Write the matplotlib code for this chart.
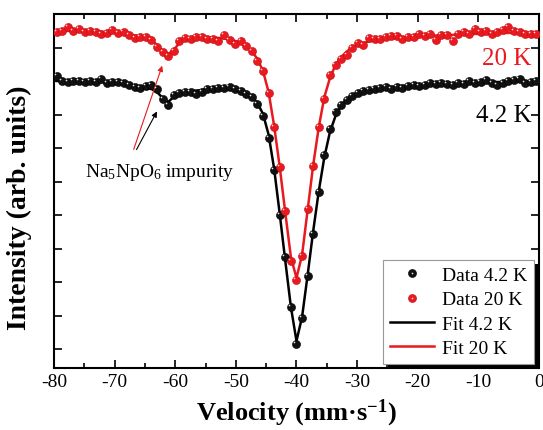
import matplotlib
matplotlib.use("Agg")
import matplotlib.pyplot as plt
import matplotlib.patheffects as pe
from matplotlib.lines import Line2D
from matplotlib.legend_handler import HandlerTuple
from matplotlib.ticker import MultipleLocator
from matplotlib.transforms import ScaledTranslation

plt.rcParams['font.family'] = 'Liberation Serif'
plt.rcParams['mathtext.default'] = 'regular'
plt.rcParams['axes.unicode_minus'] = False

# velocity channels (mm/s)
velocity = [-79.56, -78.64, -77.72, -76.80, -75.88, -74.96, -74.04, -73.12, -72.20, -71.28,
            -70.36, -69.44, -68.52, -67.60, -66.68, -65.76, -64.84, -63.92, -63.00, -62.08,
            -61.16, -60.24, -59.32, -58.40, -57.48, -56.56, -55.64, -54.72, -53.80, -52.88,
            -51.96, -51.04, -50.12, -49.20, -48.28, -47.36, -46.44, -45.52, -44.60, -43.68,
            -42.76, -41.84, -40.92, -40.00, -39.08, -38.16, -37.24, -36.32, -35.40, -34.48,
            -33.56, -32.64, -31.72, -30.80, -29.88, -28.96, -28.04, -27.12, -26.20, -25.28,
            -24.36, -23.44, -22.52, -21.60, -20.68, -19.76, -18.84, -17.92, -17.00, -16.08,
            -15.16, -14.24, -13.32, -12.40, -11.48, -10.56, -9.64, -8.72, -7.80, -6.88,
            -5.96, -5.04, -4.12, -3.20, -2.28, -1.36, -0.44]

data_4k = [1.0030, 1.0000, 0.9994, 1.0000, 1.0000, 0.9994, 1.0000, 0.9994, 1.0012, 0.9988,
           0.9994, 0.9994, 0.9988, 0.9976, 0.9964, 0.9958, 0.9970, 0.9976, 0.9952, 0.9893,
           0.9857, 0.9917, 0.9928, 0.9934, 0.9934, 0.9922, 0.9934, 0.9952, 0.9952, 0.9958,
           0.9958, 0.9964, 0.9952, 0.9940, 0.9922, 0.9905, 0.9863, 0.9791, 0.9660, 0.9469,
           0.9200, 0.8949, 0.8651, 0.8430, 0.8585, 0.8836, 0.9087, 0.9337, 0.9558, 0.9714,
           0.9815, 0.9857, 0.9887, 0.9911, 0.9928, 0.9940, 0.9946, 0.9952, 0.9958, 0.9964,
           0.9952, 0.9964, 0.9958, 0.9970, 0.9976, 0.9970, 0.9976, 0.9988, 0.9982, 0.9988,
           0.9982, 0.9976, 0.9988, 0.9982, 1.0000, 0.9988, 0.9994, 1.0006, 0.9988, 0.9976,
           0.9988, 1.0000, 1.0006, 1.0012, 0.9988, 0.9994, 1.0000]

data_20k = [1.0293, 1.0299, 1.0322, 1.0299, 1.0311, 1.0293, 1.0299, 1.0293, 1.0281, 1.0287,
            1.0305, 1.0287, 1.0293, 1.0275, 1.0257, 1.0263, 1.0263, 1.0245, 1.0203, 1.0173,
            1.0149, 1.0179, 1.0239, 1.0257, 1.0251, 1.0263, 1.0263, 1.0251, 1.0251, 1.0239,
            1.0275, 1.0245, 1.0221, 1.0239, 1.0209, 1.0179, 1.0120, 1.0060, 0.9928, 0.9725,
            0.9487, 0.9224, 0.8925, 0.8812, 0.8955, 0.9236, 0.9493, 0.9725, 0.9893, 1.0036,
            1.0096, 1.0131, 1.0155, 1.0197, 1.0227, 1.0215, 1.0257, 1.0251, 1.0251, 1.0263,
            1.0269, 1.0269, 1.0251, 1.0263, 1.0263, 1.0281, 1.0269, 1.0281, 1.0245, 1.0275,
            1.0275, 1.0239, 1.0281, 1.0293, 1.0281, 1.0311, 1.0293, 1.0299, 1.0281, 1.0293,
            1.0305, 1.0322, 1.0299, 1.0293, 1.0281, 1.0281, 1.0281]

fit_4k = [1.0000, 1.0000, 1.0000, 1.0000, 0.9997, 0.9997, 0.9994, 0.9994, 0.9994, 0.9991,
          0.9988, 0.9988, 0.9982, 0.9976, 0.9970, 0.9964, 0.9958, 0.9952, 0.9934, 0.9899,
          0.9875, 0.9905, 0.9928, 0.9934, 0.9940, 0.9943, 0.9946, 0.9949, 0.9952, 0.9952,
          0.9952, 0.9949, 0.9946, 0.9937, 0.9925, 0.9905, 0.9869, 0.9803, 0.9680, 0.9475,
          0.9206, 0.8925, 0.8651, 0.8448, 0.8591, 0.8842, 0.9105, 0.9343, 0.9546, 0.9696,
          0.9791, 0.9851, 0.9887, 0.9911, 0.9925, 0.9937, 0.9946, 0.9952, 0.9958, 0.9961,
          0.9964, 0.9967, 0.9970, 0.9973, 0.9976, 0.9976, 0.9979, 0.9982, 0.9982, 0.9985,
          0.9985, 0.9985, 0.9988, 0.9988, 0.9988, 0.9991, 0.9991, 0.9991, 0.9994, 0.9994,
          0.9994, 0.9994, 0.9997, 0.9997, 0.9997, 0.9997, 1.0000]

fit_20k = [1.0299, 1.0299, 1.0299, 1.0299, 1.0299, 1.0299, 1.0296, 1.0296, 1.0293, 1.0293,
           1.0290, 1.0287, 1.0284, 1.0278, 1.0272, 1.0266, 1.0260, 1.0245, 1.0215, 1.0179,
           1.0161, 1.0185, 1.0227, 1.0248, 1.0254, 1.0257, 1.0260, 1.0260, 1.0260, 1.0257,
           1.0254, 1.0248, 1.0239, 1.0227, 1.0209, 1.0179, 1.0131, 1.0060, 0.9934, 0.9731,
           0.9487, 0.9212, 0.8949, 0.8824, 0.8961, 0.9230, 0.9499, 0.9725, 0.9905, 1.0018,
           1.0096, 1.0143, 1.0176, 1.0200, 1.0215, 1.0227, 1.0236, 1.0242, 1.0248, 1.0251,
           1.0254, 1.0257, 1.0260, 1.0263, 1.0266, 1.0266, 1.0269, 1.0269, 1.0272, 1.0272,
           1.0275, 1.0275, 1.0278, 1.0278, 1.0281, 1.0281, 1.0281, 1.0284, 1.0284, 1.0284,
           1.0287, 1.0287, 1.0287, 1.0287, 1.0287, 1.0287, 1.0287]

red = '#e8191f'

fig = plt.figure(figsize=(5.43, 4.31), dpi=100)
ax = fig.add_axes([0.0994, 0.1439, 0.8932, 0.8213])

# small offset for the highlight on the "ball" markers
shift = ScaledTranslation(-1.5 / 72, 1.5 / 72, fig.dpi_scale_trans)
ball = dict(ls='none', marker='o', ms=5.8, mew=0.4)
spot = dict(ls='none', marker='o', ms=1.2, mew=0)

ax.plot(velocity, fit_4k, color='black', lw=1.8, zorder=2)
ax.plot(velocity, fit_20k, color=red, lw=1.8, zorder=2)

ax.plot(velocity, data_4k, mfc='#111111', mec='black', zorder=3, **ball)
ax.plot(velocity, data_4k, color='#e8e8e8', transform=ax.transData + shift, zorder=4, **spot)
ax.plot(velocity, data_20k, mfc=red, mec='#c41016', zorder=3, **ball)
ax.plot(velocity, data_20k, color='#ffd8d8', transform=ax.transData + shift, zorder=4, **spot)

ax.set_xlim(-80, 0)
ax.set_ylim(0.8287, 1.04)
ax.xaxis.set_major_locator(MultipleLocator(10))
ax.xaxis.set_minor_locator(MultipleLocator(5))
ax.yaxis.set_major_locator(MultipleLocator(0.02))
ax.tick_params(which='both', direction='in', top=True, right=True, width=1.2, labelsize=14)
ax.tick_params(which='major', length=6)
ax.tick_params(which='minor', length=3.5)
ax.tick_params(axis='y', labelleft=False)
for s in ax.spines.values():
    s.set_linewidth(1.5)

ax.set_xlabel('Velocity (mm·s$^{-1}$)', fontsize=19, fontweight='bold', labelpad=5)
ax.set_ylabel('Intensity (arb. units)', fontsize=20, fontweight='bold')
ax.yaxis.set_label_coords(-0.045, 0.455)

ax.text(-1.2, 1.0137, '20 K', color=red, fontsize=18, ha='right', va='center')
ax.text(-1.2, 0.9797, '4.2 K', color='black', fontsize=18, ha='right', va='center')

ax.annotate('', xy=(-62.0, 1.0107), xytext=(-67.0, 0.9576),
            arrowprops=dict(arrowstyle='-|>', color=red, lw=0.8, mutation_scale=8))
ax.annotate('', xy=(-62.8, 0.9833), xytext=(-66.6, 0.9576),
            arrowprops=dict(arrowstyle='-|>', color='black', lw=0.8, mutation_scale=8))
ax.text(-62.5, 0.9462, 'Na$_5$NpO$_6$ impurity', fontsize=14, ha='center', va='center')

ball_k = (Line2D([], [], mfc='#111111', mec='black', **ball),
          Line2D([], [], color='#e8e8e8', **spot))
ball_r = (Line2D([], [], mfc=red, mec='#c41016', **ball),
          Line2D([], [], color='#ffd8d8', **spot))
line_k = Line2D([], [], color='black', lw=1.8)
line_r = Line2D([], [], color=red, lw=1.8)

leg = ax.legend([ball_k, ball_r, line_k, line_r],
                ['Data 4.2 K', 'Data 20 K', 'Fit 4.2 K', 'Fit 20 K'],
                handler_map={tuple: HandlerTuple(ndivide=1, pad=0)},
                loc='lower right', bbox_to_anchor=(0.9897, 0.0113), borderaxespad=0,
                fontsize=14, handlelength=2.3, labelspacing=0.35, handletextpad=0.4,
                borderpad=0.35, fancybox=False, edgecolor='#999999', framealpha=1)
frame = leg.get_frame()
frame.set_linewidth(0.8)
# solid black drop shadow on the legend box
frame.set_path_effects([pe.SimplePatchShadow(offset=(4, -3), shadow_rgbFace='black', alpha=1.0),
                        pe.Normal()])

fig.savefig('out.png', dpi=100)
